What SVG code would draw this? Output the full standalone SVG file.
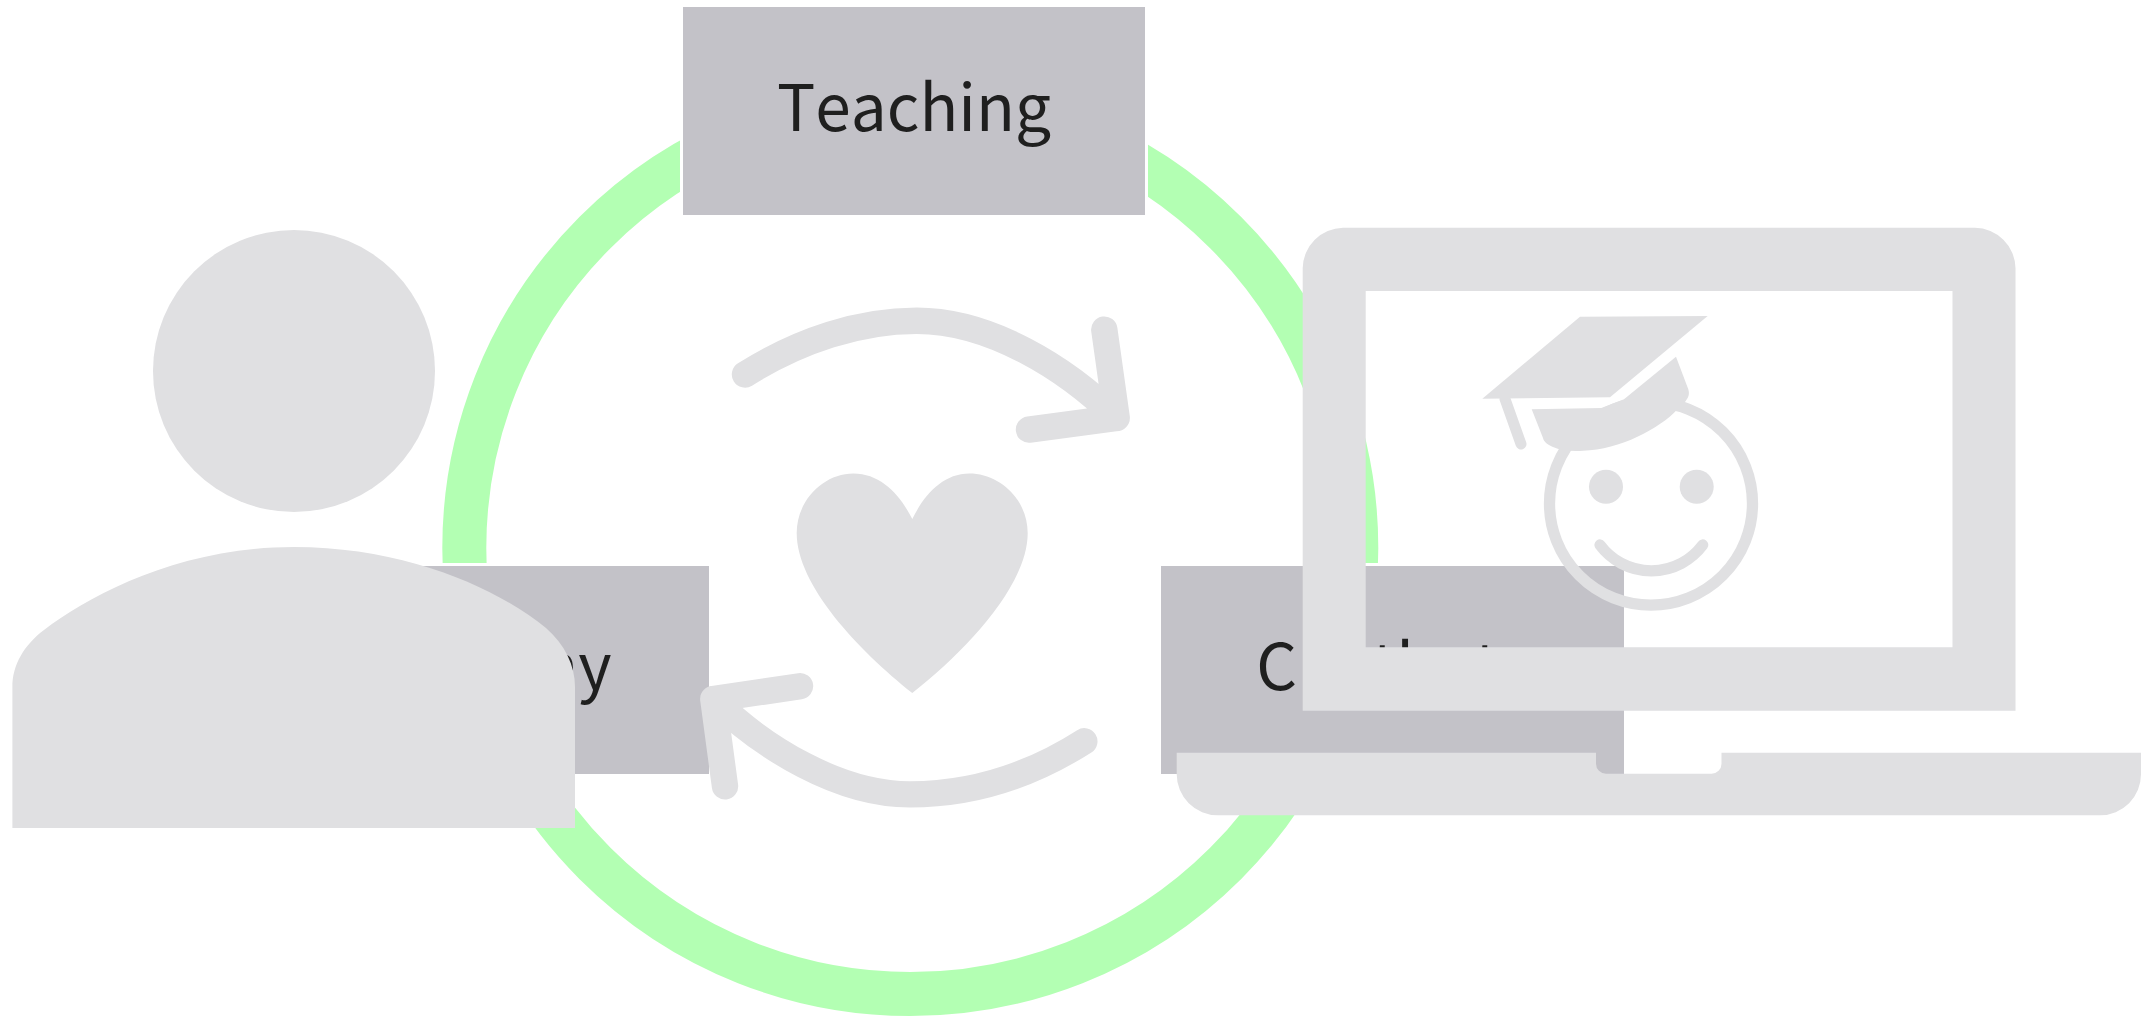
<svg xmlns="http://www.w3.org/2000/svg" width="2154" height="1016" viewBox="0 0 2154 1016">
<style>
.box{fill:#c3c2c8;stroke:#fff;stroke-width:6;paint-order:stroke}
.lbl{font-family:"Noto Sans CJK SC","Noto Sans",sans-serif;font-size:64px;font-kerning:none;fill:#1f1f1f;text-anchor:middle}
.ic{fill:#e0e0e2}
.ln{fill:none;stroke:#e0e0e2;stroke-linecap:round;stroke-linejoin:round}
</style>
<rect width="2154" height="1016" fill="#fff"/>
<g id="connectors">
<circle id="cycle-ring" cx="910.300" cy="548" r="446" fill="none" stroke="#b3ffb3" stroke-width="44"/>
</g>
<g id="node-teaching">
<rect class="box" x="683" y="7" width="462" height="208"/>
<text class="lbl" x="914" y="131">Teaching</text>
</g>
<g id="node-empathy">
<rect class="box" x="247" y="566" width="462" height="208"/>
<text class="lbl" x="477" y="690">Empathy</text>
</g>
<g id="node-chatbots">
<rect class="box" x="1161" y="566" width="463" height="208"/>
<text class="lbl" x="1392.500" y="690">Chatbots</text>
</g>
<g id="person">
<circle class="ic" cx="294" cy="371" r="141"/>
<path class="ic" d="M12.400 828V687C12.400 665 24 645 44 630C90 595 180 547 294 547C408 547 500 590 546 628C565 645 575 665 575 687V828Z"/>
</g>
<g id="cycle-arrows">
<path class="ln" stroke-width="26.400" d="M745 374.500C800 340 860 320.800 916.700 320.800C990 320.800 1066 368 1116.700 418M1104.300 329.600L1116.700 417.800L1029 429.600"/>
<path class="ln" stroke-width="26.400" d="M1084.300 741.300C1030 776 970 794.400 910 794.400C839 794.400 763 748 713.300 699M725 786.300L713.300 699L800 686.200"/>
</g>
<g id="heart">
<path class="ic" d="M912.300 693C858 650 796.700 585 796.700 533C796.700 500 824 473.600 853.300 473.600C881 473.600 900 495 912.300 519C924 495 943 473.600 969.300 473.600C1000 473.600 1027.700 500 1027.700 533C1027.700 585 967 650 912.300 693Z"/>
</g>
<g id="laptop">
<path class="ic" fill-rule="evenodd" d="M1343 227.800H1975A41 41 0 0 1 2015.500 268V710.800H1302.700V268A41 41 0 0 1 1343 227.800ZM1365.700 291V647.300H1952.500V291Z"/>
<path class="ic" d="M1176.700 752.700H1596V763.700A10 10 0 0 0 1606 773.700H1711.500A10 10 0 0 0 1721.500 763.700V752.700H2141V774A41 41 0 0 1 2100 815.300H1218A41 41 0 0 1 1176.700 774Z"/>
</g>
<g id="student">
<circle class="ln" cx="1651" cy="503.600" r="101.500" stroke-width="11.300"/>
<circle class="ic" cx="1606" cy="486.700" r="17"/>
<circle class="ic" cx="1696.700" cy="486.700" r="17"/>
<path class="ln" stroke-width="11.300" d="M1600 545A64 64 0 0 0 1702.700 545"/>
<path class="ic" d="M1580 316.700L1707.700 316L1610 397.300L1482.300 398.700Z"/>
<path class="ln" stroke-width="11" d="M1505 399L1521 444"/>
<path class="ic" d="M1531.700 409.300L1601.300 408L1624 399.300L1676 356.700L1688.300 389.300C1690 395 1688 398 1685 402L1676.700 410C1660 428 1620 450 1583 450.700C1570 451.500 1560 450 1553 447C1547 444 1544 442 1543 438Z"/>
</g>
</svg>
